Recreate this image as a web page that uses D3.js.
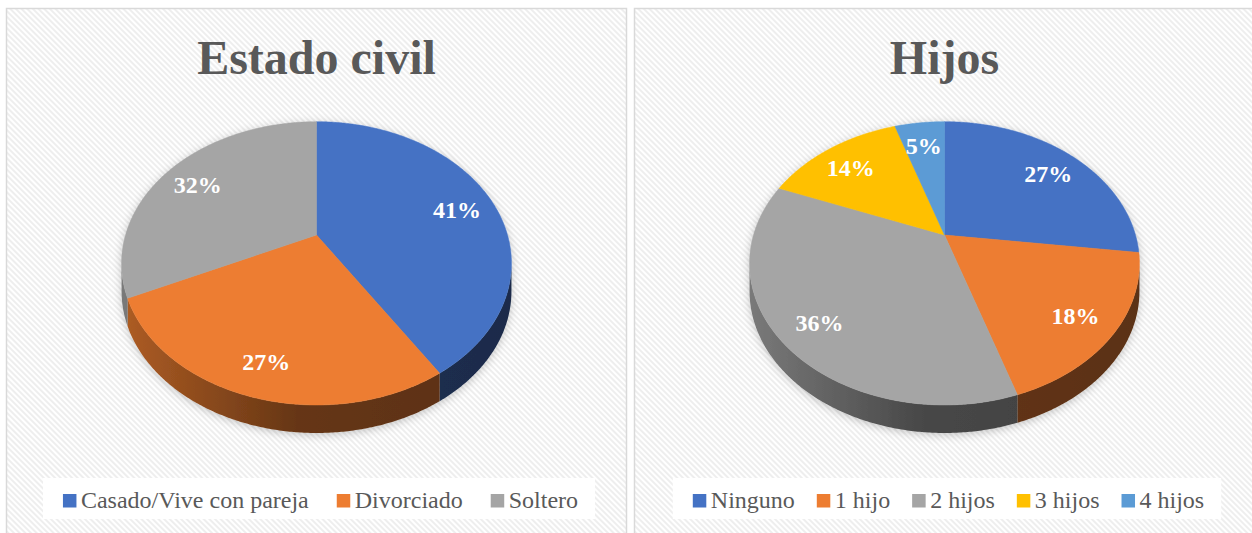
<!DOCTYPE html>
<html>
<head>
<meta charset="utf-8">
<script src="https://cdn.jsdelivr.net/npm/d3@7"></script>
<style>
body { margin: 0; background: #fff; }
</style>
</head>
<body>
<svg id="chart" width="1252" height="533"></svg>
<script>
// values (percent)
const civilCategories = ["Casado/Vive con pareja", "Divorciado", "Soltero"]
const civilValues = [41, 27, 32]
const civilColors = ["#4472c4", "#ed7d31", "#a5a5a5"]

const hijosCategories = ["Ninguno", "1 hijo", "2 hijos", "3 hijos", "4 hijos"]
const hijosValues = [27, 18, 36, 14, 5]
const hijosColors = ["#4472c4", "#ed7d31", "#a5a5a5", "#ffc000", "#5b9bd5"]

const chartTitles = ["Estado civil", "Hijos"]

const serif = "'Liberation Serif', 'Times New Roman', serif"

let svg = d3.select("#chart")
let defs = svg.append("defs")

// hatched chart area background
let hatch = defs.append("pattern")
    .attr("id", "hatch")
    .attr("patternUnits", "userSpaceOnUse")
    .attr("width", 4).attr("height", 4)
    .attr("patternTransform", "rotate(-45)")
hatch.append("rect").attr("width", 4).attr("height", 4).attr("fill", "#ffffff")
hatch.append("rect").attr("width", 2).attr("height", 4).attr("fill", "#eeeeee")

let shadow = defs.append("filter").attr("id", "pieShadow")
    .attr("x", "-10%").attr("y", "-10%").attr("width", "120%").attr("height", "130%")
shadow.append("feDropShadow")
    .attr("dx", 0).attr("dy", 2).attr("stdDeviation", 4)
    .attr("flood-color", "#000").attr("flood-opacity", 0.22)

// pie geometry (perspective tilt)
let pieVars = ({
    offsetX: 310,
    cy: 235,
    a: 191,
    b: 136,
    k: 0.2,
    depth: 28
})

let panels = [
    { x: 6.5, w: 620, title: chartTitles[0], cats: civilCategories, vals: civilValues, cols: civilColors, gap: 28 },
    { x: 634.5, w: 640, title: chartTitles[1], cats: hijosCategories, vals: hijosValues, cols: hijosColors, gap: 22 }
]

panels.forEach(function (p, pi) {
    let g = svg.append("g")
    let cx = p.x + pieVars.offsetX

    // panel frame
    g.append("rect")
        .attr("x", p.x).attr("y", 8.5)
        .attr("width", p.w).attr("height", 540)
        .attr("fill", "url(#hatch)")
        .attr("stroke", "#d9d9d9")
        .attr("stroke-width", 1.5)

    // title
    g.append("text")
        .attr("x", cx)
        .attr("y", 74)
        .attr("text-anchor", "middle")
        .attr("font-family", serif)
        .attr("font-size", 48)
        .attr("font-weight", "bold")
        .attr("fill", "#595959")
        .text(p.title)

    let color = d3.scaleOrdinal().domain(p.cats).range(p.cols)
    let pie = d3.pie().sort(null).value(function (d) { return d.value })
    let arcs = pie(p.cats.map(function (c, i) { return { cat: c, value: p.vals[i] } }))

    function project(theta, f) {
        let u = Math.sin(theta), v = -Math.cos(theta)
        let w = 1 - pieVars.k * f * v
        return [cx + pieVars.a * f * u / w, pieVars.cy + pieVars.b * f * v / w]
    }

    function arcPoints(a0, a1) {
        let n = Math.max(2, Math.ceil((a1 - a0) / (Math.PI / 360)))
        return d3.range(n + 1).map(function (j) { return project(a0 + (a1 - a0) * j / n, 1) })
    }

    let line = d3.line()
    let pieG = g.append("g").attr("filter", "url(#pieShadow)")

    // side walls: only the front half is visible
    let frontStart = Math.acos(-pieVars.k)
    let frontEnd = 2 * Math.PI - frontStart

    arcs.forEach(function (d, i) {
        let s = Math.max(d.startAngle, frontStart)
        let e = Math.min(d.endAngle, frontEnd)
        if (e <= s) return
        let base = d3.rgb(color(d.data.cat))
        let gid = "side-" + pi + "-" + i
        let grad = defs.append("linearGradient").attr("id", gid)
            .attr("gradientUnits", "userSpaceOnUse")
            .attr("x1", cx - pieVars.a * 1.03).attr("x2", cx + pieVars.a * 1.03)
            .attr("y1", 0).attr("y2", 0)
        let stops = [[0, 0.74], [0.45, 0.43], [1, 0.38]]
        stops.forEach(function (st) {
            grad.append("stop").attr("offset", st[0])
                .attr("stop-color", d3.rgb(base.r * st[1], base.g * st[1], base.b * st[1]).formatHex())
        })
        let top = arcPoints(s, e)
        let bottom = top.map(function (pt) { return [pt[0], pt[1] + pieVars.depth] }).reverse()
        pieG.append("path")
            .attr("d", line(top.concat(bottom)) + "Z")
            .attr("fill", "url(#" + gid + ")")
    })

    // top faces
    arcs.forEach(function (d) {
        let pts = [project(0, 0)].concat(arcPoints(d.startAngle, d.endAngle))
        pieG.append("path")
            .attr("d", line(pts) + "Z")
            .attr("fill", color(d.data.cat))
            .attr("stroke", color(d.data.cat))
            .attr("stroke-width", 0.5)
    })

    // data labels
    arcs.forEach(function (d) {
        let pos = project((d.startAngle + d.endAngle) / 2, 0.8)
        g.append("text")
            .attr("x", pos[0])
            .attr("y", pos[1] + 4)
            .attr("text-anchor", "middle")
            .attr("dominant-baseline", "central")
            .attr("font-family", serif)
            .attr("font-size", 24)
            .attr("font-weight", "bold")
            .attr("fill", "#ffffff")
            .text(d3.format(".0f")(d.value) + "%")
    })

    // legend
    let legendBox = g.append("rect").attr("fill", "#ffffff")
    let legend = g.append("g")
    let lx = 0
    p.cats.forEach(function (c) {
        legend.append("rect")
            .attr("x", lx).attr("y", -13.5)
            .attr("width", 13.5).attr("height", 13.5)
            .attr("fill", color(c))
        let t = legend.append("text")
            .attr("x", lx + 18).attr("y", 0)
            .attr("font-family", serif)
            .attr("font-size", 24)
            .attr("fill", "#595959")
            .text(c)
        lx += 18 + t.node().getComputedTextLength() + p.gap
    })
    let legendW = lx - p.gap
    let lx0 = cx + 4 - legendW / 2
    legend.attr("transform", "translate(" + lx0 + "," + 507.5 + ")")
    legendBox
        .attr("x", lx0 - 20).attr("y", 478)
        .attr("width", legendW + 37).attr("height", 41)
})
</script>
</body>
</html>
